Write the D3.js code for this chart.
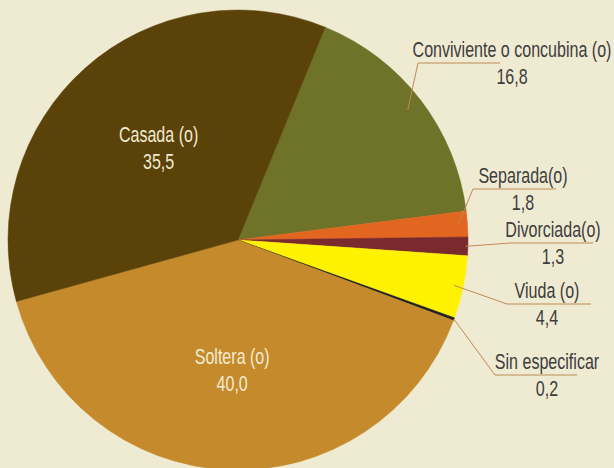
<!DOCTYPE html>
<html>
<head>
<meta charset="utf-8">
<script src="https://cdn.jsdelivr.net/npm/d3@7"></script>
<style>
  body { margin: 0; background: #efead2; }
  svg { display: block; }
  text { font-family: "Liberation Sans", Arial, sans-serif; font-size: 22px; }
</style>
</head>
<body>
<div id="chart"></div>
<script>
// data (percent)
const categories = ["Conviviente o concubina (o)", "Separada(o)", "Divorciada(o)", "Viuda (o)", "Sin especificar", "Soltera (o)", "Casada (o)"];
const values = [16.8, 1.8, 1.3, 4.4, 0.2, 40.0, 35.5];
const valueLabels = ["16,8", "1,8", "1,3", "4,4", "0,2", "40,0", "35,5"];
const colors = ["#6e7329", "#e2661f", "#7a2a2d", "#fff200", "#222222", "#c58a2b", "#5a4208"];

// label placement: inside the big slices, callouts for the rest
const inside = { "Soltera (o)": 0.58, "Casada (o)": 0.52 };
const callouts = {
  "Conviviente o concubina (o)": { x: 512, y: 57, lineFrom: 418, lineTo: 500, r: 0.93 },
  "Separada(o)": { x: 523, y: 183, lineFrom: 473, lineTo: 556, r: 0.96 },
  "Divorciada(o)": { x: 553, y: 237, lineFrom: 510, lineTo: 593, r: 0.99 },
  "Viuda (o)": { x: 547, y: 298, lineFrom: 507, lineTo: 591, r: 0.96 },
  "Sin especificar": { x: 547, y: 369, lineFrom: 495, lineTo: 577, r: 1.0 }
};

const width = 614, height = 468;
const cx = 238, cy = 240, radius = 230;
const startDeg = 22.3;

const svg = d3.select("#chart").append("svg")
  .attr("width", width)
  .attr("height", height);

svg.append("rect").attr("width", width).attr("height", height).attr("fill", "#efead2");

const data = categories.map((c, i) => ({ name: c, value: values[i], label: valueLabels[i], color: colors[i] }));

const pie = d3.pie()
  .value(d => d.value)
  .sort(null)
  .startAngle(startDeg * Math.PI / 180)
  .endAngle(startDeg * Math.PI / 180 + 2 * Math.PI);

const arcs = pie(data);
const arc = d3.arc().innerRadius(0).outerRadius(radius);

const g = svg.append("g").attr("transform", `translate(${cx},${cy})`);

g.selectAll("path.slice")
  .data(arcs)
  .enter()
  .append("path")
  .attr("class", "slice")
  .attr("d", arc)
  .attr("fill", d => d.data.color)
  .attr("stroke", d => d.data.color)
  .attr("stroke-width", 0.5);

// the original uses a condensed face; squeeze a regular one to match
const probe = svg.append("text").text(categories[0]);
const squeeze = 199 / probe.node().getComputedTextLength();
probe.remove();

function label(parent, x, y, str, fill) {
  parent.append("text")
    .attr("transform", `translate(${x},${y}) scale(${squeeze},1)`)
    .attr("text-anchor", "middle")
    .attr("fill", fill)
    .text(str);
}

arcs.filter(d => inside[d.data.name] !== undefined).forEach(d => {
  const r = radius * inside[d.data.name];
  const a = (d.startAngle + d.endAngle) / 2;
  const px = Math.sin(a) * r, py = -Math.cos(a) * r;
  label(g, px, py - 9, d.data.name, "#f1ead2");
  label(g, px, py + 18, d.data.label, "#f1ead2");
});

const lineColor = "#c08a55";
arcs.filter(d => callouts[d.data.name]).forEach(d => {
  const c = callouts[d.data.name];
  const a = (d.startAngle + d.endAngle) / 2;
  const r = radius * c.r;
  const ax = cx + Math.sin(a) * r, ay = cy - Math.cos(a) * r;
  const ly = c.y + 6;
  svg.append("polyline")
    .attr("points", `${ax},${ay} ${c.lineFrom},${ly} ${c.lineTo},${ly}`)
    .attr("fill", "none")
    .attr("stroke", lineColor)
    .attr("stroke-width", 1);
  label(svg, c.x, c.y, d.data.name, "#3d3d3d");
  label(svg, c.x, c.y + 27, d.data.label, "#3d3d3d");
});
</script>
</body>
</html>
